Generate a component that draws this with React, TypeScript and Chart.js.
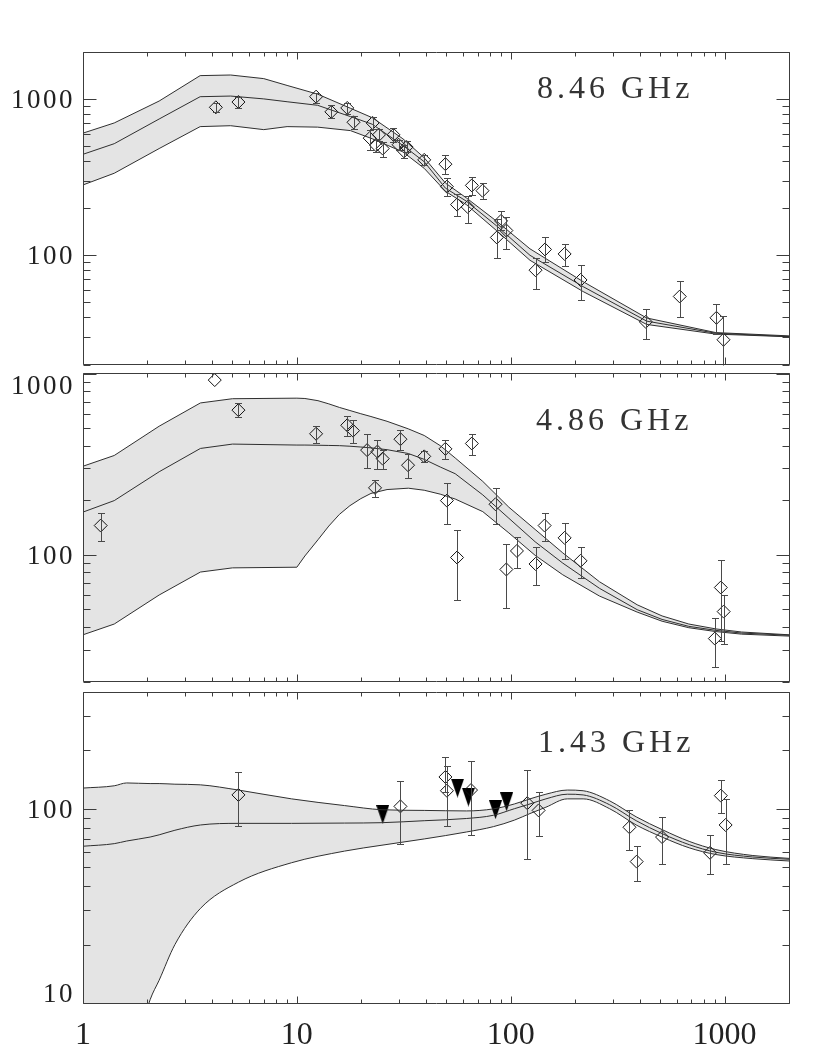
import React, { useEffect, useRef } from 'react';
import { Chart, registerables } from 'chart.js';

Chart.register(...registerables);

// ---------------- data ----------------
const X_MIN = 1;
const X_MAX = 2000;
const X_TICKS = [1, 10, 100, 1000];
const X_TICK_LABELS = ['1', '10', '100', '1000'];
const X_TITLE = 'Time since explosion (days)';

// 8.46 GHz observations (days, flux, lower, upper)
const t846 = [4.18, 5.33, 12.3, 14.5, 17.2, 18.4, 21.9, 22.6, 23.5, 24.2, 25.2, 28.3, 29.9, 31.7, 32.6, 39.4, 49.5, 50.3, 56.1, 62.9, 65.8, 73.8, 86.1, 90.1, 95.4, 130.6, 144.6, 178.6, 212, 428, 617, 916, 988];
const f846 = [885, 957, 1035, 828, 877, 710, 562, 703, 505, 590, 482, 590, 510, 463, 493, 408, 383, 275, 211, 204, 280, 259, 130, 166, 144, 80.3, 109, 102, 69.5, 37.5, 54.5, 39.8, 28.8];
const lo846 = [830, 880, 950, 760, 800, 640, 470, 644, 461, 541, 423, 530, 470, 420, 455, 378, 330, 239, 178, 162, 242, 230, 96, 146, 109, 61, 90, 85, 52, 29, 40, 31.4, 15];
const hi846 = [940, 1035, 1100, 910, 940, 780, 630, 767, 557, 644, 533, 650, 543, 510, 535, 437, 436, 311, 246, 240, 319, 290, 170, 193, 177, 96, 130, 118, 87, 45.6, 68, 48.5, 40.8];
// 8.46 GHz model: time grid, upper bound, best fit, lower bound
const grid846 = [1, 1.4, 2.27, 3.53, 4.9, 7, 9, 12.5, 17.8, 22.5, 31.3, 39.4, 49.5, 62, 86, 123, 218, 432, 910, 2000];
const up846 = [605, 703, 971, 1412, 1425, 1351, 1222, 1075, 873, 760, 557, 421, 290, 233, 165, 110, 67.8, 39.7, 32, 30.5];
const mid846 = [443, 518, 745, 1035, 1045, 1002, 961, 912, 772, 690, 505, 397, 269, 222, 154, 100, 63, 37.9, 31.7, 30.2];
const low846 = [282, 335, 482, 666, 675, 637, 666, 661, 628, 557, 459, 360, 257, 211, 143.5, 92.9, 58.6, 36.1, 31.3, 30.1];

// 4.86 GHz observations
const t486 = [1.21, 4.13, 5.33, 12.3, 17.2, 18.3, 21.3, 23.8, 25.2, 23.2, 30.5, 33.1, 39.4, 49.5, 50.3, 56.1, 65.8, 84.9, 95.4, 106.9, 130.6, 144, 178.6, 212, 900, 960, 990];
const f486 = [145, 920, 628, 465, 518, 484, 378, 371, 339, 234, 434, 312, 349, 384, 199, 96.6, 411, 190, 83, 105, 89, 145, 124, 92.6, 34.5, 66, 48.6];
const lo486 = [119, null, 574, 416, 454, 416, 300, 299, 299, 208, 380, 264, 325, 336, 148, 56, 356, 148, 51, 85, 68, 119, 95, 74, 24, 33.6, 32];
const hi486 = [169, null, 688, 511, 581, 555, 461, 430, 380, 259, 487, 360, 376, 430, 249, 137, 461, 235, 115, 125, 110, 169, 150, 110, 45, 94, 60];
const grid486 = [1, 1.4, 2.27, 3.54, 5, 10, 10.9, 12.55, 14.1, 15.8, 17.7, 19.9, 22.2, 26.4, 33.2, 39.4, 46.8, 55, 74, 98, 130, 175, 260, 390, 510, 680, 910, 1200, 2000];
const up486 = [308, 353, 512, 688, 726, 731, 728, 708, 680, 650, 625, 600, 579, 545, 495, 455, 400, 342, 254, 183, 138, 102.5, 71, 53, 46, 41.5, 39, 37.5, 36.2];
const mid486 = [172, 199, 287, 386, 408, 403, 403, 402, 401, 400, 397, 393, 389, 380, 362, 336, 305, 280, 214, 159, 118, 90, 65.3, 49.8, 44, 40.3, 38.3, 37, 36];
const low486 = [36.2, 41.5, 60, 80.3, 84.7, 85.4, 98.5, 121, 144, 167, 186.6, 204, 218, 229, 233, 227, 216, 203, 173, 132, 99.3, 77.6, 59.2, 48.3, 43, 39.6, 37.7, 36.5, 35.6];

// 1.43 GHz observations
const t143 = [5.33, 30.5, 49.5, 50.3, 65.2, 119.5, 135, 359, 388, 510, 855, 960, 1011];
const f143 = [118, 103, 146, 124, 125, 107, 98.2, 80.4, 53.5, 71.6, 59.4, 117, 82.6];
const lo143 = [82, 66, 122, 82, 73, 55, 72.6, 61.6, 42.3, 51.9, 46.1, 95.3, 51.9];
const hi143 = [155, 139, 184, 166, 176, 158.6, 122, 98.4, 64.7, 91, 73, 141, 112];
// 1.43 GHz upper limits
const tLim143 = [25.2, 56.4, 63.4, 84.9, 95.6];
const fLim143 = [93.5, 128, 115, 99, 108.7];
const grid143 = [1, 1.4, 1.6, 2.06, 2.27, 2.69, 3.54, 5.33, 9.45, 16.7, 25, 39.4, 62, 83, 104, 123, 146, 184, 218, 290, 386, 514, 683, 910, 1355, 2000];
const up143 = [128, 131.5, 136, 135, 135, 134, 133, 125, 112.6, 104, 99, 98.2, 97.6, 100, 106, 112.6, 119, 125, 124, 110, 91, 77.9, 68, 61.7, 57.5, 55.6];
const mid143 = [64.2, 66.2, 68.3, 71.6, 73.5, 77.6, 82.6, 84.2, 84.2, 84.5, 84.9, 86.9, 89.2, 92.7, 100.2, 106, 112.6, 119, 118, 105, 86.9, 74.3, 65.4, 59.8, 56.5, 55];
const low143 = [0.5, 2, 4, 10.4, 13.1, 20, 30.7, 41.9, 52.8, 60.6, 65, 70, 76, 81, 87.5, 94.6, 102, 112.6, 112.6, 100.2, 82.6, 71.3, 63, 58.2, 55.4, 53.9];

// ---------------- styling / layout ----------------
const AXIS_COLOR = '#3c3c3c';
const BAND_COLOR = '#e4e4e4';
const CURVE_COLOR = '#2f2f2f';
const ERR_COLOR = '#4a4a4a';
const SERIF = '"Liberation Serif", "Times New Roman", serif';

type Panel = {
  label: string;
  yMin: number;
  yMax: number;
  yLabels: number[];
  grid: number[];
  upper: number[];
  mid: number[];
  lower: number[];
  obsT: number[];
  obsF: number[];
  obsLo: (number | null)[];
  obsHi: (number | null)[];
  limT: number[];
  limF: number[];
  top: number;
  height: number;
  pad: { top: number; bottom: number; left: number; right: number };
  labelDx: number;
  labelDy: number;
  showX: boolean;
  smooth: boolean;
};

const PANELS: Panel[] = [
  {
    label: '8.46 GHz', yMin: 20, yMax: 2000, yLabels: [100, 1000],
    grid: grid846, upper: up846, mid: mid846, lower: low846,
    obsT: t846, obsF: f846, obsLo: lo846, obsHi: hi846, limT: [], limF: [],
    top: 0, height: 372, pad: { top: 52, bottom: 3, left: 83, right: 41 },
    labelDx: 454, labelDy: 46, showX: false, smooth: false,
  },
  {
    label: '4.86 GHz', yMin: 20, yMax: 1000, yLabels: [100, 1000],
    grid: grid486, upper: up486, mid: mid486, lower: low486,
    obsT: t486, obsF: f486, obsLo: lo486, obsHi: hi486, limT: [], limF: [],
    top: 366, height: 323, pad: { top: 3, bottom: 3, left: 83, right: 41 },
    labelDx: 453, labelDy: 56, showX: false, smooth: false,
  },
  {
    label: '1.43 GHz', yMin: 10, yMax: 400, yLabels: [10, 100],
    grid: grid143, upper: up143, mid: mid143, lower: low143,
    obsT: t143, obsF: f143, obsLo: lo143, obsHi: hi143, limT: tLim143, limF: fLim143,
    top: 683, height: 374, pad: { top: 3, bottom: 54, left: 83, right: 41 },
    labelDx: 455, labelDy: 60, showX: true, smooth: true,
  },
];

function makeTriangle(): HTMLCanvasElement {
  const c = document.createElement('canvas');
  c.width = 13;
  c.height = 19;
  const g = c.getContext('2d')!;
  g.fillStyle = '#000';
  g.beginPath();
  g.moveTo(0, 0);
  g.lineTo(13, 0);
  g.lineTo(6.5, 19);
  g.closePath();
  g.fill();
  return c;
}

const errorBarPlugin = {
  id: 'errorBars',
  afterDatasetsDraw(chart: any) {
    const { ctx, chartArea: a, scales } = chart;
    const x = scales.x;
    const y = scales.y;
    ctx.save();
    ctx.beginPath();
    ctx.rect(a.left, a.top, a.right - a.left, a.bottom - a.top + 1);
    ctx.clip();
    ctx.strokeStyle = ERR_COLOR;
    ctx.lineWidth = 1;
    chart.data.datasets.forEach((ds: any) => {
      if (!ds.errLo) return;
      ds.data.forEach((p: any, i: number) => {
        const lo = ds.errLo[i];
        const hi = ds.errHi[i];
        if (lo == null || hi == null) return;
        const px = Math.round(x.getPixelForValue(p.x)) + 0.5;
        const y1 = Math.round(y.getPixelForValue(lo)) + 0.5;
        const y2 = Math.round(y.getPixelForValue(hi)) + 0.5;
        ctx.beginPath();
        ctx.moveTo(px, y1);
        ctx.lineTo(px, y2);
        ctx.moveTo(px - 3.5, y1);
        ctx.lineTo(px + 3.5, y1);
        ctx.moveTo(px - 3.5, y2);
        ctx.lineTo(px + 3.5, y2);
        ctx.stroke();
      });
    });
    ctx.restore();
  },
};

const axesPlugin = {
  id: 'idlAxes',
  afterDraw(chart: any) {
    const { ctx, chartArea: a, scales } = chart;
    const p: Panel = chart.options.plugins.idlAxes.panel;
    const x = scales.x;
    const y = scales.y;
    const L = Math.floor(a.left) + 0.5;
    const R = Math.floor(a.right) + 0.5;
    const T = Math.floor(a.top) + 0.5;
    const B = Math.floor(a.bottom) + 0.5;
    ctx.save();
    ctx.strokeStyle = AXIS_COLOR;
    ctx.lineWidth = 1;
    ctx.beginPath();
    ctx.rect(L, T, R - L, B - T);
    ctx.stroke();

    // x ticks (top and bottom, inward)
    ctx.beginPath();
    for (const d of X_TICKS) {
      for (let m = 1; m <= 9; m++) {
        const v = m * d;
        if (v < X_MIN || v > X_MAX) continue;
        const px = Math.round(x.getPixelForValue(v)) + 0.5;
        const len = m === 1 ? 7 : 4;
        ctx.moveTo(px, B);
        ctx.lineTo(px, B - len);
        ctx.moveTo(px, T);
        ctx.lineTo(px, T + len);
      }
    }
    // y ticks (left and right, inward)
    for (let e = 0; e <= 3; e++) {
      const d = Math.pow(10, e);
      for (let m = 1; m <= 9; m++) {
        const v = m * d;
        if (v < p.yMin || v > p.yMax) continue;
        const py = Math.round(y.getPixelForValue(v)) + 0.5;
        const len = m === 1 ? 13 : 7;
        ctx.moveTo(L, py);
        ctx.lineTo(L + len, py);
        ctx.moveTo(R, py);
        ctx.lineTo(R - len, py);
      }
    }
    ctx.stroke();

    // y labels
    ctx.fillStyle = '#222';
    ctx.font = `27px ${SERIF}`;
    (ctx as any).letterSpacing = '2.5px';
    ctx.textAlign = 'right';
    ctx.textBaseline = 'alphabetic';
    for (const v of p.yLabels) {
      let cy = y.getPixelForValue(v);
      cy = Math.min(Math.max(cy, a.top + 11), a.bottom - 10.5);
      ctx.fillText(String(v), a.left - 8, cy + 9);
    }

    // x labels
    if (p.showX) {
      ctx.font = `32px ${SERIF}`;
      (ctx as any).letterSpacing = '0px';
      ctx.textAlign = 'center';
      X_TICKS.forEach((v, i) => {
        ctx.fillText(X_TICK_LABELS[i], x.getPixelForValue(v), a.bottom + 41);
      });
      ctx.fillText(X_TITLE, (a.left + a.right) / 2, a.bottom + 79);
    }

    // panel label
    ctx.font = `32px ${SERIF}`;
    (ctx as any).letterSpacing = '4px';
    ctx.textAlign = 'left';
    ctx.fillStyle = '#333';
    ctx.fillText(p.label, a.left + p.labelDx, a.top + p.labelDy);
    ctx.restore();
  },
};

function buildConfig(p: Panel, tri: HTMLCanvasElement): any {
  const curve = (vals: number[]) => p.grid.map((t, i) => ({ x: t, y: vals[i] }));
  const lineStyle = {
    borderColor: CURVE_COLOR, borderWidth: 1, pointRadius: 0, tension: 0,
    cubicInterpolationMode: p.smooth ? 'monotone' : 'default',
  };
  const datasets: any[] = [
    { label: 'upper', data: curve(p.upper), ...lineStyle, fill: '+2', backgroundColor: BAND_COLOR },
    { label: 'model', data: curve(p.mid), ...lineStyle, fill: false },
    { label: 'lower', data: curve(p.lower), ...lineStyle, fill: false },
    {
      label: 'observed', data: p.obsT.map((t, i) => ({ x: t, y: p.obsF[i] })),
      showLine: false, pointStyle: 'rectRot', pointRadius: 6.5, pointBorderWidth: 1,
      pointBorderColor: '#111', pointBackgroundColor: 'rgba(0,0,0,0)',
      errLo: p.obsLo, errHi: p.obsHi,
    },
  ];
  if (p.limT.length) {
    datasets.push({
      label: 'upper limits', data: p.limT.map((t, i) => ({ x: t, y: p.limF[i] })),
      showLine: false, pointStyle: tri, pointRadius: 8,
    });
  }
  return {
    type: 'line',
    data: { datasets },
    options: {
      responsive: false,
      maintainAspectRatio: false,
      animation: false,
      devicePixelRatio: 1,
      events: [],
      layout: { padding: p.pad },
      scales: {
        x: { type: 'logarithmic', min: X_MIN, max: X_MAX, display: false },
        y: { type: 'logarithmic', min: p.yMin, max: p.yMax, display: false },
      },
      plugins: {
        legend: { display: false },
        tooltip: { enabled: false },
        filler: { drawTime: 'beforeDatasetsDraw' },
        idlAxes: { panel: p },
      },
    },
    plugins: [errorBarPlugin, axesPlugin],
  };
}

export default function App() {
  const refs = useRef<(HTMLCanvasElement | null)[]>([]);
  useEffect(() => {
    const tri = makeTriangle();
    const charts = PANELS.map((p, i) => new Chart(refs.current[i] as HTMLCanvasElement, buildConfig(p, tri)));
    return () => charts.forEach((c) => c.destroy());
  }, []);
  return (
    <div style={{ position: 'absolute', left: 0, top: 0, width: 830, height: 1057, overflow: 'hidden', background: '#fff' }}>
      {PANELS.map((p, i) => (
        <canvas
          key={i}
          ref={(el) => { refs.current[i] = el; }}
          width={830}
          height={p.height}
          style={{ position: 'absolute', left: 0, top: p.top, width: 830, height: p.height }}
        />
      ))}
    </div>
  );
}
